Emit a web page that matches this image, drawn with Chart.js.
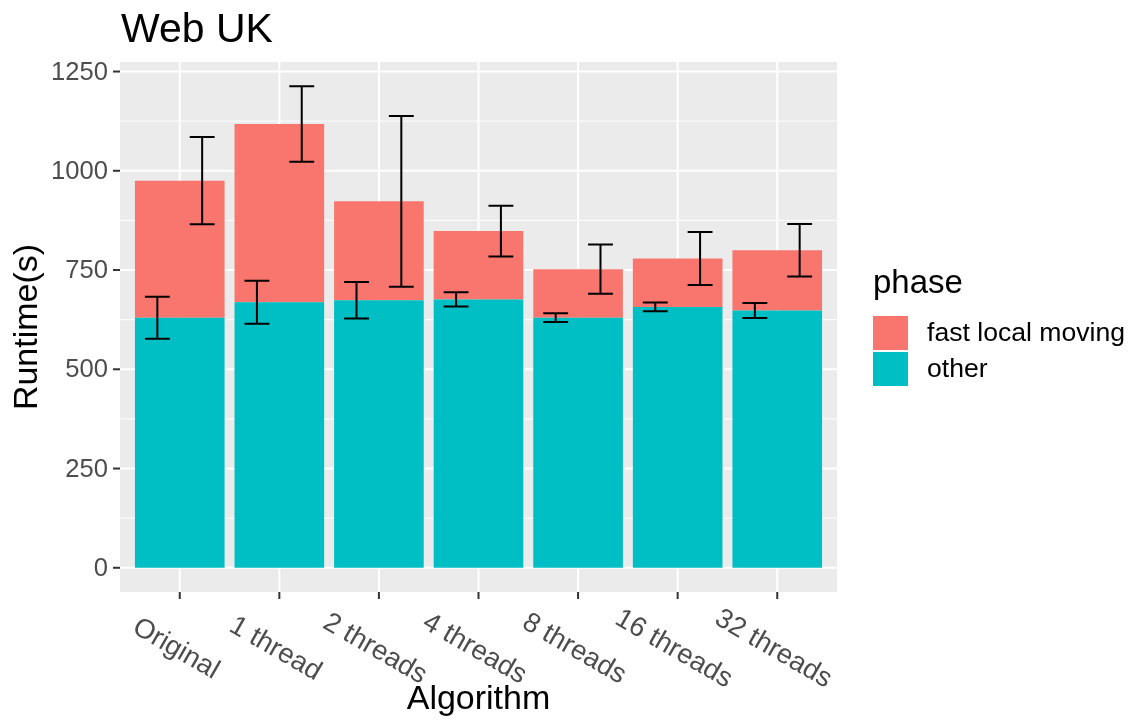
<!DOCTYPE html>
<html>
<head>
<meta charset="utf-8">
<script src="https://cdn.jsdelivr.net/npm/chart.js@4.4.0/dist/chart.umd.min.js"></script>
<style>
  body { margin: 0; background: #ffffff; }
  #wrap { width: 1134px; height: 720px; }
</style>
</head>
<body>
<div id="wrap"><canvas id="runtimeChart" width="1134" height="720"></canvas></div>
<script>
// values
const algorithms = ['Original', '1 thread', '2 threads', '4 threads', '8 threads', '16 threads', '32 threads'];
const otherRuntime = [630, 669, 674, 676, 630, 657, 648];
const fastLocalMoving = [345, 449, 249, 172, 122, 122, 152];
const otherError = [53, 54, 46, 18, 11, 11, 19];
const totalError = [110, 95, 215, 64, 62, 67, 66];
const yTicks = [0, 250, 500, 750, 1000, 1250];
const yMinorTicks = [125, 375, 625, 875, 1125];

const PINK = '#F8766D';
const TEAL = '#00BFC4';
const FONT = '"Liberation Sans", Arial, sans-serif';

// ggplot-ish panel, grid, axes and legend drawn on top of the chart's scales
const ggTheme = {
    id: 'ggTheme',
    beforeDatasetsDraw(chart) {
        const {ctx, chartArea: a, scales: {x, y}} = chart;
        ctx.save();
        ctx.fillStyle = '#EBEBEB';
        ctx.fillRect(a.left, a.top, a.right - a.left, a.bottom - a.top);
        ctx.strokeStyle = '#ffffff';
        ctx.lineWidth = 1;
        yMinorTicks.forEach(v => {
            const py = y.getPixelForValue(v);
            ctx.beginPath(); ctx.moveTo(a.left, py); ctx.lineTo(a.right, py); ctx.stroke();
        });
        ctx.lineWidth = 2;
        yTicks.forEach(v => {
            const py = y.getPixelForValue(v);
            ctx.beginPath(); ctx.moveTo(a.left, py); ctx.lineTo(a.right, py); ctx.stroke();
        });
        algorithms.forEach((lab, i) => {
            const px = x.getPixelForValue(i);
            ctx.beginPath(); ctx.moveTo(px, a.top); ctx.lineTo(px, a.bottom); ctx.stroke();
        });
        ctx.restore();
    },
    afterDatasetsDraw(chart) {
        const {ctx, scales: {x, y}} = chart;
        const half = x.getPixelForValue(0.125) - x.getPixelForValue(0);
        const drawBar = (cx, lo, hi) => {
            const pLo = y.getPixelForValue(lo), pHi = y.getPixelForValue(hi);
            ctx.beginPath();
            ctx.moveTo(cx - half, pHi); ctx.lineTo(cx + half, pHi);
            ctx.moveTo(cx, pHi); ctx.lineTo(cx, pLo);
            ctx.moveTo(cx - half, pLo); ctx.lineTo(cx + half, pLo);
            ctx.stroke();
        };
        ctx.save();
        ctx.strokeStyle = '#000000';
        ctx.lineWidth = 2;
        algorithms.forEach((lab, i) => {
            const other = otherRuntime[i];
            const total = otherRuntime[i] + fastLocalMoving[i];
            drawBar(x.getPixelForValue(i - 0.225), other - otherError[i], other + otherError[i]);
            drawBar(x.getPixelForValue(i + 0.225), total - totalError[i], total + totalError[i]);
        });
        ctx.restore();
    },
    afterDraw(chart) {
        const {ctx, chartArea: a, scales: {x, y}} = chart;
        ctx.save();
        // y axis ticks + labels
        ctx.strokeStyle = '#333333';
        ctx.lineWidth = 2;
        ctx.fillStyle = '#4D4D4D';
        ctx.font = '25.6px ' + FONT;
        ctx.textAlign = 'right';
        ctx.textBaseline = 'middle';
        yTicks.forEach(v => {
            const py = y.getPixelForValue(v);
            ctx.beginPath(); ctx.moveTo(a.left - 7, py); ctx.lineTo(a.left, py); ctx.stroke();
            ctx.fillText(String(v), a.left - 12, py + 1);
        });
        // x axis ticks + rotated labels
        ctx.textAlign = 'center';
        ctx.font = '27.5px ' + FONT;
        algorithms.forEach((lab, i) => {
            const px = x.getPixelForValue(i);
            ctx.beginPath(); ctx.moveTo(px, a.bottom); ctx.lineTo(px, a.bottom + 7); ctx.stroke();
            ctx.save();
            ctx.translate(px - 4, 649);
            ctx.rotate(Math.PI / 6);
            ctx.fillText(lab, 0, 0);
            ctx.restore();
        });
        // titles
        ctx.fillStyle = '#000000';
        ctx.font = '34px ' + FONT;
        ctx.textBaseline = 'alphabetic';
        ctx.fillText('Algorithm', (a.left + a.right) / 2, 709);
        ctx.save();
        ctx.translate(37, (a.top + a.bottom) / 2);
        ctx.rotate(-Math.PI / 2);
        ctx.fillText('Runtime(s)', 0, 0);
        ctx.restore();
        ctx.textAlign = 'left';
        ctx.font = '41px ' + FONT;
        ctx.fillText('Web UK', a.left + 1, 42);
        // legend
        ctx.font = '33px ' + FONT;
        ctx.fillText('phase', 873, 293);
        ctx.fillStyle = PINK;
        ctx.fillRect(873, 316, 35, 34);
        ctx.fillStyle = TEAL;
        ctx.fillRect(873, 352, 35, 34);
        ctx.fillStyle = '#000000';
        ctx.font = '26.6px ' + FONT;
        ctx.textBaseline = 'middle';
        ctx.fillText('fast local moving', 927, 334);
        ctx.fillText('other', 927, 370);
        ctx.restore();
    }
};

const ctx = document.getElementById('runtimeChart').getContext('2d');

const runtime_chart = new Chart(ctx, {
    type: 'bar',
    data: {
        labels: algorithms,
        datasets: [{
            label: 'other',
            data: otherRuntime.map((v, i) => ({x: i, y: v})),
            backgroundColor: TEAL,
            borderWidth: 0,
            barPercentage: 0.9,
            categoryPercentage: 1
        }, {
            label: 'fast local moving',
            data: fastLocalMoving.map((v, i) => ({x: i, y: v})),
            backgroundColor: PINK,
            borderWidth: 0,
            barPercentage: 0.9,
            categoryPercentage: 1
        }]
    },
    options: {
        responsive: false,
        animation: false,
        layout: {
            padding: {left: 120, right: 297, top: 62, bottom: 128}
        },
        plugins: {
            legend: {display: false},
            tooltip: {enabled: false}
        },
        scales: {
            x: {
                type: 'linear',
                min: -0.6,
                max: 6.6,
                offset: false,
                stacked: true,
                display: false,
                afterBuildTicks: scale => {
                    scale.ticks = algorithms.map((lab, i) => ({value: i}));
                }
            },
            y: {
                min: -61,
                max: 1274,
                stacked: true,
                display: false
            }
        }
    },
    plugins: [ggTheme]
});
</script>
</body>
</html>
